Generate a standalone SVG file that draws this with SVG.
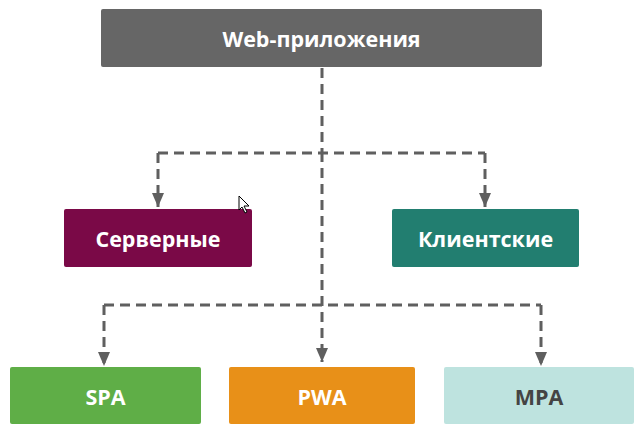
<svg xmlns="http://www.w3.org/2000/svg" width="643" height="432" viewBox="0 0 643 432">
<defs>
<marker id="arr" markerWidth="14" markerHeight="12" refX="14" refY="6" orient="auto" markerUnits="userSpaceOnUse" viewBox="0 0 14 12">
<path d="M0,0 L14,6 L0,12 Z" fill="#5f5f5f"/>
</marker>
<style>
.lbl{font-family:"Open Sans","Lato","Liberation Sans",sans-serif;font-weight:700;font-size:21.5px;text-anchor:middle;dominant-baseline:central;fill:#ffffff}
.ln{fill:none;stroke:#5f5f5f;stroke-width:3;stroke-dasharray:10 6}
</style>
</defs>
<rect width="643" height="432" fill="#ffffff"/>
<g id="connectors">
<path class="ln" d="M322,68 V152"/>
<path class="ln" d="M322,152 V362" marker-end="url(#arr)"/>
<path class="ln" d="M158,153 H485"/>
<path class="ln" d="M158,153 V207" marker-end="url(#arr)"/>
<path class="ln" d="M485,153 V207" marker-end="url(#arr)"/>
<path class="ln" d="M104,305 H541"/>
<path class="ln" d="M104,305 V366" marker-end="url(#arr)"/>
<path class="ln" d="M541,305 V366" marker-end="url(#arr)"/>
</g>
<g id="web">
<rect x="101" y="9" width="441" height="58" rx="2" fill="#666666"/>
<text class="lbl" x="321.5" y="38">Web-приложения</text>
</g>
<g id="server">
<rect x="64" y="209" width="188" height="58" rx="2" fill="#7a0947"/>
<text class="lbl" x="158" y="238">Серверные</text>
</g>
<g id="client">
<rect x="392" y="209" width="187" height="58" rx="2" fill="#227e70"/>
<text class="lbl" x="485.5" y="238">Клиентские</text>
</g>
<g id="spa">
<rect x="10" y="367" width="191" height="57" rx="2" fill="#5fae47"/>
<text class="lbl" x="105.5" y="396">SPA</text>
</g>
<g id="pwa">
<rect x="229" y="367" width="186" height="57" rx="2" fill="#e89018"/>
<text class="lbl" x="322" y="396">PWA</text>
</g>
<g id="mpa">
<rect x="444" y="367" width="190" height="57" rx="2" fill="#bee3df"/>
<text class="lbl" x="539" y="396" style="fill:#444444">MPA</text>
</g>
<path d="M239,196 V210 L242,207 L245,213 L247,212 L244,206 L249,206 Z" fill="#ffffff" stroke="#000000" stroke-width="1"/>
</svg>
